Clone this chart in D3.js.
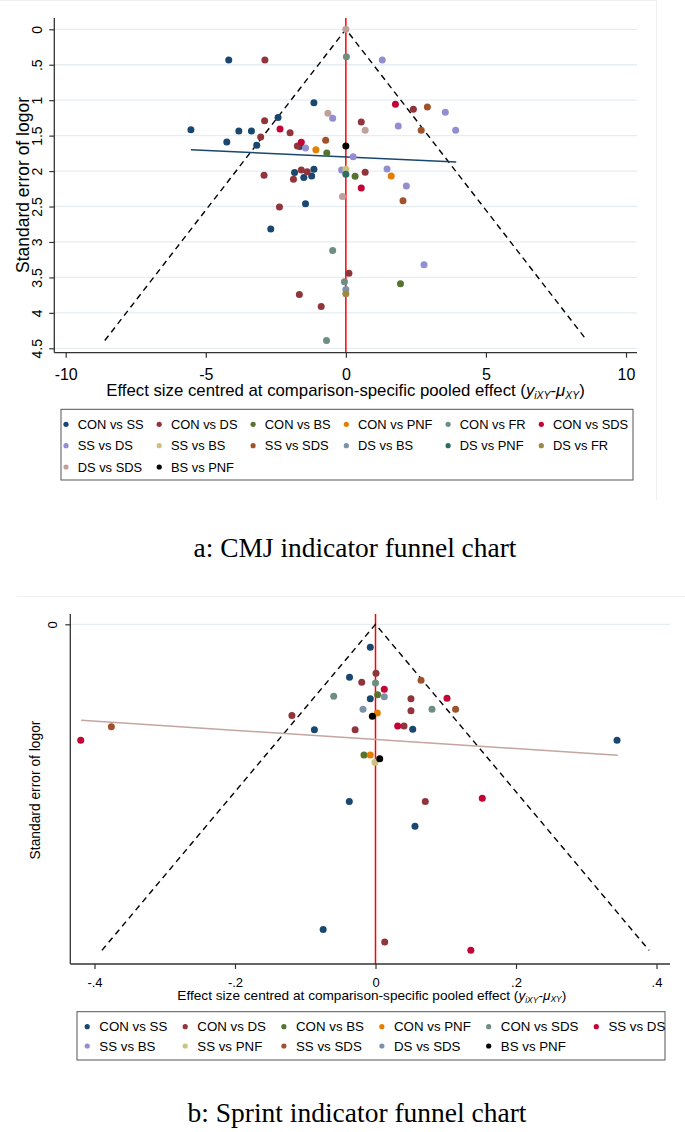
<!DOCTYPE html>
<html><head><meta charset="utf-8">
<script src="https://cdn.jsdelivr.net/npm/d3@7"></script>
<style>
body{margin:0;background:#fff}
svg{display:block}
text{font-family:"Liberation Sans",Arial,Helvetica,sans-serif;fill:#000}
</style>
</head><body>
<svg id="c" width="685" height="1132"></svg>
<script>
// ---------------- DATA: panel a (CMJ) ----------------
const seriesNamesA = ["CON vs SS","CON vs DS","CON vs BS","CON vs PNF","CON vs FR","CON vs SDS","SS vs DS","SS vs BS","SS vs SDS","DS vs BS","DS vs PNF","DS vs FR","DS vs SDS","BS vs PNF"];
// [effect centred, standard error]
const a_CON_SS = [[-4.18,0.433],[-1.14,1.035],[-2.42,1.245],[-5.53,1.416],[-3.82,1.434],[-3.37,1.434],[-4.25,1.59],[-3.18,1.636],[-1.64,1.655],[-1.83,2.02],[-1.50,2.09],[-1.22,2.07],[-1.14,1.975],[-1.44,2.46],[-2.68,2.817]];
const a_CON_DS = [[-2.89,0.433],[-2.90,1.29],[-1.99,1.458],[-3.04,1.519],[-1.73,1.646],[-2.92,2.06],[-1.59,1.985],[-1.38,2.01],[-1.87,2.115],[-2.37,2.506],[0.55,1.307],[2.41,1.128],[0.69,2.017],[0.11,3.44],[-1.66,3.74],[-0.88,3.91]];
const a_CON_BS = [[-0.68,1.745],[0.33,2.074],[1.95,3.59]];
const a_CON_PNF = [[-1.07,1.698],[1.62,2.07]];
const a_CON_FR = [[0.02,0.386],[-0.47,3.12],[-0.05,3.56],[-0.69,4.39]];
const a_CON_SDS = [[-2.35,1.406],[-1.59,1.594],[1.77,1.058],[0.55,2.24]];
const a_SS_DS = [[-0.47,1.255],[1.30,0.433],[3.55,1.171],[1.87,1.364],[3.92,1.425],[-1.44,1.674],[0.26,1.797],[-0.15,1.985],[1.47,1.97],[2.16,2.21],[2.79,3.32]];
const a_SS_BS = [[0,1.975]];
const a_SS_SDS = [[-0.72,1.566],[2.91,1.096],[2.69,1.425],[2.04,2.42]];
const a_DS_BS = [[0,3.67]];
const a_DS_PNF = [[0,2.045]];
const a_DS_FR = [[0,3.73]];
const a_DS_SDS = [[0,0],[-0.64,1.185],[0.69,1.425],[-0.12,2.36]];
const a_BS_PNF = [[0,1.646]];
const regressionA = [[-5.53,1.70],[3.94,1.872]];
const xTicksA = [-10,-5,0,5,10];
const xTickLabelsA = ["-10","-5","0","5","10"];
const yTicksA = [0,0.5,1,1.5,2,2.5,3,3.5,4,4.5];
const yTickLabelsA = ["0",".5","1","1.5","2","2.5","3","3.5","4","4.5"];

// ---------------- DATA: panel b (Sprint) ----------------
const seriesNamesB = ["CON vs SS","CON vs DS","CON vs BS","CON vs PNF","CON vs SDS","SS vs DS","SS vs BS","SS vs PNF","SS vs SDS","DS vs SDS","BS vs PNF"];
const b_CON_SS = [[-0.0074,0.014],[-0.037,0.0323],[-0.0074,0.0453],[-0.087,0.0642],[0.053,0.064],[0.3438,0.0707],[-0.0373,0.108],[0.0562,0.123],[-0.0745,0.186]];
const b_CON_DS = [[0.0007,0.0299],[-0.0196,0.0353],[0.0505,0.0453],[-0.119,0.0555],[0.0505,0.0527],[-0.029,0.0642],[0.0406,0.062],[0.0709,0.108],[0.0131,0.1936]];
const b_CON_BS = [[0.003,0.043],[-0.0164,0.0796]];
const b_CON_PNF = [[0.0026,0.054],[-0.0074,0.0796]];
const b_CON_SDS = [[0,0.0358],[-0.0595,0.0439],[0.0804,0.0518]];
const b_SS_DS = [[0.0125,0.0396],[0.1018,0.0451],[0.0316,0.062],[-0.4196,0.0707],[0.152,0.106],[0.1357,0.1987]];
const b_SS_BS = [];
const b_SS_PNF = [[-0.0007,0.0841]];
const b_SS_SDS = [[0.0648,0.0341],[0.114,0.0518],[-0.376,0.0624]];
const b_DS_SDS = [[0.0125,0.0441],[-0.0178,0.0518]];
const b_BS_PNF = [[-0.0045,0.0561],[0.006,0.0819]];
const regressionB = [[-0.419,0.0585],[0.345,0.0798]];
const xTicksB = [-0.4,-0.2,0,0.2,0.4];
const xTickLabelsB = ["-.4","-.2","0",".2",".4"];
const yTicksB = [0];
const yTickLabelsB = ["0"];

// ---------------- STYLE ----------------
const C = {navy:"#1a476f",maroon:"#90353b",forest:"#55752f",dkorange:"#e37e00",teal:"#6e8e84",cranberry:"#c10534",lavender:"#938dd2",khaki:"#cac27e",sienna:"#a0522d",emidblue:"#7b92a8",emerald:"#2d6d66",brown:"#9c8847",erose:"#bfa19c",black:"#000000"};
const paletteA = [C.navy,C.maroon,C.forest,C.dkorange,C.teal,C.cranberry,C.lavender,C.khaki,C.sienna,C.emidblue,C.emerald,C.brown,C.erose,C.black];
const paletteB = [C.navy,C.maroon,C.forest,C.dkorange,C.teal,C.cranberry,C.lavender,C.khaki,C.sienna,C.emidblue,C.black];

const svg = d3.select("#c");

// faint borders of the two source pictures
svg.append("line").attr("x1",0).attr("x2",656).attr("y1",0.5).attr("y2",0.5).attr("stroke","#efefef");
svg.append("line").attr("x1",656.5).attr("x2",656.5).attr("y1",0).attr("y2",500).attr("stroke","#efefef");
svg.append("line").attr("x1",17).attr("x2",685).attr("y1",596.5).attr("y2",596.5).attr("stroke","#efefef");

function fitWidth(sel, target){
  const w = sel.node().getComputedTextLength();
  const fs = parseFloat(sel.style("font-size"));
  sel.style("font-size", (fs*target/w)+"px");
}

function drawPanel(p){
  const g = svg.append("g");
  const x = d3.scaleLinear().domain(p.xDomain).range(p.xRange);
  const y = d3.scaleLinear().domain(p.yDomain).range(p.yRange);
  const F = p.frame;
  // gridlines
  g.selectAll(null).data(p.yTicks).join("line")
    .attr("x1",F.l).attr("x2",F.r).attr("y1",d=>y(d)).attr("y2",d=>y(d))
    .attr("stroke","#e5edf1").attr("stroke-width",1.3);
  // zero line
  g.append("line").attr("x1",x(0)).attr("x2",x(0)).attr("y1",F.t).attr("y2",F.b)
    .attr("stroke","#ff0000").attr("stroke-width",1.5);
  // pseudo 95% CI funnel
  const allPts = p.series.flat();
  const seMax = d3.max(allPts, d=>d[1]);
  const funnel = [[-1.96*seMax,seMax],[0,0],[1.96*seMax,seMax]];
  const line = d3.line().x(d=>x(d[0])).y(d=>y(d[1]));
  g.append("path").attr("d",line(funnel)).attr("fill","none")
    .attr("stroke","#000").attr("stroke-width",1.4).attr("stroke-dasharray","6,4.5");
  // regression line
  g.append("path").attr("d",line(p.reg)).attr("fill","none")
    .attr("stroke",p.regColor).attr("stroke-width",1.5);
  // points
  p.series.forEach((s,i)=>{
    g.selectAll(null).data(s).join("circle")
      .attr("cx",d=>x(d[0])).attr("cy",d=>y(d[1])).attr("r",3.5)
      .attr("fill",p.palette[i]);
  });
  // axes lines
  g.append("line").attr("x1",F.l).attr("x2",F.r).attr("y1",F.b).attr("y2",F.b).attr("stroke","#333").attr("stroke-width",1.3);
  g.append("line").attr("x1",F.l).attr("x2",F.l).attr("y1",F.t).attr("y2",F.b).attr("stroke","#333").attr("stroke-width",1.3);
  // x axis
  const xa = g.append("g").attr("transform",`translate(0,${F.b})`)
    .call(d3.axisBottom(x).tickValues(p.xTicks).tickFormat((d,i)=>p.xTickLabels[i]).tickSize(5).tickSizeOuter(0));
  xa.select(".domain").remove();
  xa.selectAll(".tick line").attr("stroke","#333").attr("stroke-width",1.2);
  xa.selectAll(".tick text").attr("y",p.xLabelBase).attr("dy",0)
    .style("font-size",p.xLabelSize+"px").style("font-family","Liberation Sans, Arial, sans-serif").attr("fill","#000");
  // y axis
  const ya = g.append("g").attr("transform",`translate(${F.l},0)`)
    .call(d3.axisLeft(y).tickValues(p.yTicks).tickFormat((d,i)=>p.yTickLabels[i]).tickSize(5).tickSizeOuter(0));
  ya.select(".domain").remove();
  ya.selectAll(".tick line").attr("stroke","#333").attr("stroke-width",1.2);
  ya.selectAll(".tick text").attr("x",0).attr("y",-p.yLabelOff).attr("dy",0)
    .attr("text-anchor","middle").attr("transform","rotate(-90)")
    .style("font-size",p.yLabelSize+"px").style("font-family","Liberation Sans, Arial, sans-serif").attr("fill","#000");
  // x title
  const xt = g.append("text").attr("x",p.xTitle.cx).attr("y",p.xTitle.base)
    .attr("text-anchor","middle").style("font-size","15px");
  xt.append("tspan").text("Effect size centred at comparison-specific pooled effect (");
  xt.append("tspan").style("font-style","italic").text("y");
  xt.append("tspan").style("font-style","italic").style("font-size","62%").attr("dy","0.3em").text("iXY");
  xt.append("tspan").attr("dy","-0.19em").text("-");
  xt.append("tspan").style("font-style","italic").text("μ");
  xt.append("tspan").style("font-style","italic").style("font-size","62%").attr("dy","0.3em").text("XY");
  xt.append("tspan").attr("dy","-0.19em").text(")");
  fitWidth(xt, p.xTitle.w);
  // y title
  const yt = g.append("text").attr("transform",`translate(${p.yTitle.bx},${p.yTitle.cy}) rotate(-90)`)
    .attr("text-anchor","middle").style("font-size","15px").text("Standard error of logor");
  fitWidth(yt, p.yTitle.w);
  // legend
  const L = p.legend;
  g.append("rect").attr("x",L.x).attr("y",L.y).attr("width",L.w).attr("height",L.h)
    .attr("fill","#fff").attr("stroke","#555").attr("stroke-width",1);
  const ncol = 6;
  const tmp = g.append("text").style("font-size",L.fs+"px");
  const widths = p.names.map(n=>{tmp.text(n); return tmp.node().getComputedTextLength();});
  tmp.remove();
  const colW = d3.range(ncol).map(c=>d3.max(widths.filter((w,i)=>i%ncol===c)) || 0);
  const colX = [L.tx0];
  for(let c=1;c<ncol;c++) colX.push(colX[c-1]+colW[c-1]+L.pad);
  p.names.forEach((n,i)=>{
    const r = Math.floor(i/ncol), c = i%ncol;
    const cy = L.rows[r];
    g.append("circle").attr("cx",colX[c]-L.bOff).attr("cy",cy).attr("r",2.6).attr("fill",p.palette[i]);
    g.append("text").attr("x",colX[c]).attr("y",cy+0.36*L.fs).style("font-size",L.fs+"px").text(n);
  });
  // caption
  const cap = g.append("text").attr("x",p.caption.cx).attr("y",p.caption.base)
    .attr("text-anchor","middle").style("font-family","Liberation Serif, 'Times New Roman', serif")
    .style("font-size","26px").text(p.caption.text);
  fitWidth(cap, p.caption.w);
}

drawPanel({
  series:[a_CON_SS,a_CON_DS,a_CON_BS,a_CON_PNF,a_CON_FR,a_CON_SDS,a_SS_DS,a_SS_BS,a_SS_SDS,a_DS_BS,a_DS_PNF,a_DS_FR,a_DS_SDS,a_BS_PNF],
  names:seriesNamesA, palette:paletteA, reg:regressionA, regColor:C.navy,
  xDomain:[-10,10], xRange:[65.7,626], yDomain:[0,4.5], yRange:[29.3,348.3],
  frame:{l:54.3,r:637,t:18,b:352.7},
  xTicks:xTicksA, xTickLabels:xTickLabelsA, yTicks:yTicksA, yTickLabels:yTickLabelsA,
  xLabelBase:27.3, xLabelSize:16, yLabelOff:12.3, yLabelSize:14,
  xTitle:{cx:345.5, base:396, w:479},
  yTitle:{bx:28.5, cy:185, w:176},
  legend:{x:61, y:409.3, w:572, h:70.7, rows:[424.3,445.7,467], tx0:77.7, bOff:11.7, pad:27.3, fs:12.9},
  caption:{text:"a: CMJ indicator funnel chart", cx:355, base:557, w:323}
});

drawPanel({
  series:[b_CON_SS,b_CON_DS,b_CON_BS,b_CON_PNF,b_CON_SDS,b_SS_DS,b_SS_BS,b_SS_PNF,b_SS_SDS,b_DS_SDS,b_BS_PNF],
  names:seriesNamesB, palette:paletteB, reg:regressionB, regColor:"#c4a59f",
  xDomain:[-0.4,0.4], xRange:[94.5,656.5], yDomain:[0,0.2], yRange:[624.3,952.5],
  frame:{l:70.3,r:670,t:614,b:964},
  xTicks:xTicksB, xTickLabels:xTickLabelsB, yTicks:yTicksB, yTickLabels:yTickLabelsB,
  xLabelBase:22.7, xLabelSize:13, yLabelOff:13.6, yLabelSize:13,
  xTitle:{cx:371.8, base:1000, w:389.5},
  yTitle:{bx:40, cy:790, w:139},
  legend:{x:77, y:1011.7, w:588, h:48.3, rows:[1026.7,1046], tx0:99.3, bOff:12.1, pad:30, fs:13.3},
  caption:{text:"b: Sprint indicator funnel chart", cx:357, base:1122, w:339}
});
</script>
</body></html>
